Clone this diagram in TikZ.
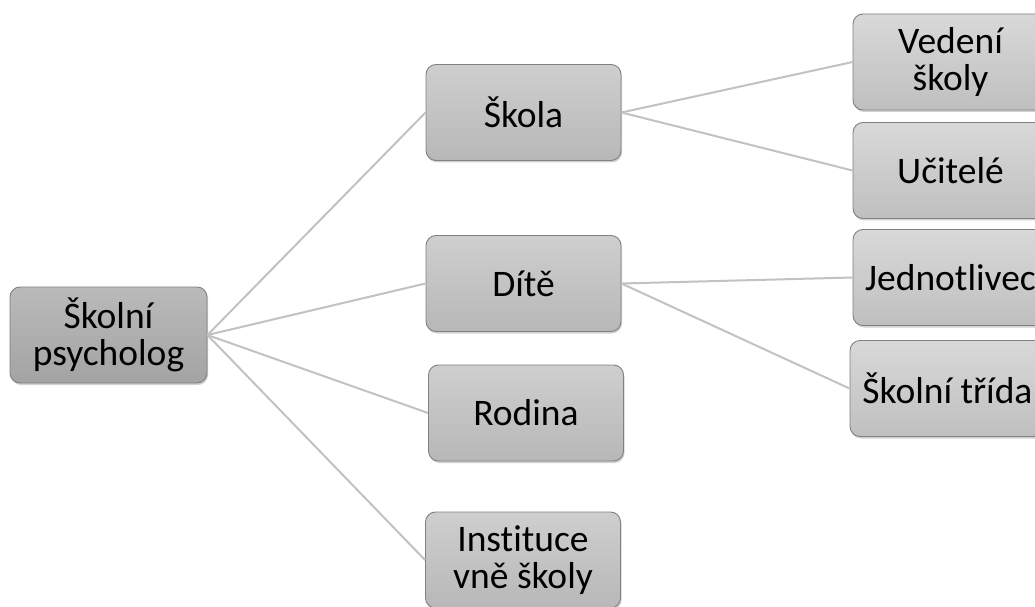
\documentclass[tikz,border=0pt]{standalone}
\usepackage{fontspec}
\setmainfont[Ligatures=NoCommon]{Carlito}
\usetikzlibrary{shadows}
\tikzset{
  box/.style={draw=black!50, line width=0.9pt, rounded corners=10pt,
    minimum width=195pt, minimum height=96pt, inner sep=0pt, align=center,
    text=black, font=\fontsize{37.5}{37}\selectfont,
    drop shadow={shadow xshift=1pt, shadow yshift=-2pt, fill=black, opacity=0.18}},
  lvl0/.style={box, top color=black!27, bottom color=black!36},
  lvl1/.style={box, top color=black!19, bottom color=black!28},
  lvl2/.style={box, top color=black!15, bottom color=black!25},
  link/.style={draw=black!24, line width=2pt}
}
\begin{document}
\begin{tikzpicture}[x=1pt,y=1pt]
\useasboundingbox (0,0) rectangle (1035,606);
\clip (0,0) rectangle (1035,606);
\node[lvl0, minimum width=197pt] (root) at (108.5,271) {Školní\\psycholog};
\node[lvl1] (skola) at (523.5,493.5) {Škola};
\node[lvl1] (dite) at (523.5,322.5) {Dítě};
\node[lvl1] (rodina) at (526,193) {Rodina};
\node[lvl1] (inst) at (523,46) {Instituce\\vně školy};
\node[lvl2] (vedeni) at (950.5,544) {Vedení\\školy};
\node[lvl2] (ucitele) at (950.5,435.5) {Učitelé};
\node[lvl2] (jedn) at (950.5,328.5) {Jednotlivec};
\node[lvl2] (trida) at (947.5,217.5) {Školní třída};
\draw[link] (root.east) -- (skola.west);
\draw[link] (root.east) -- (dite.west);
\draw[link] (root.east) -- (rodina.west);
\draw[link] (root.east) -- (inst.west);
\draw[link] (skola.east) -- (vedeni.west);
\draw[link] (skola.east) -- (ucitele.west);
\draw[link] (dite.east) -- (jedn.west);
\draw[link] (dite.east) -- (trida.west);
\end{tikzpicture}
\end{document}
